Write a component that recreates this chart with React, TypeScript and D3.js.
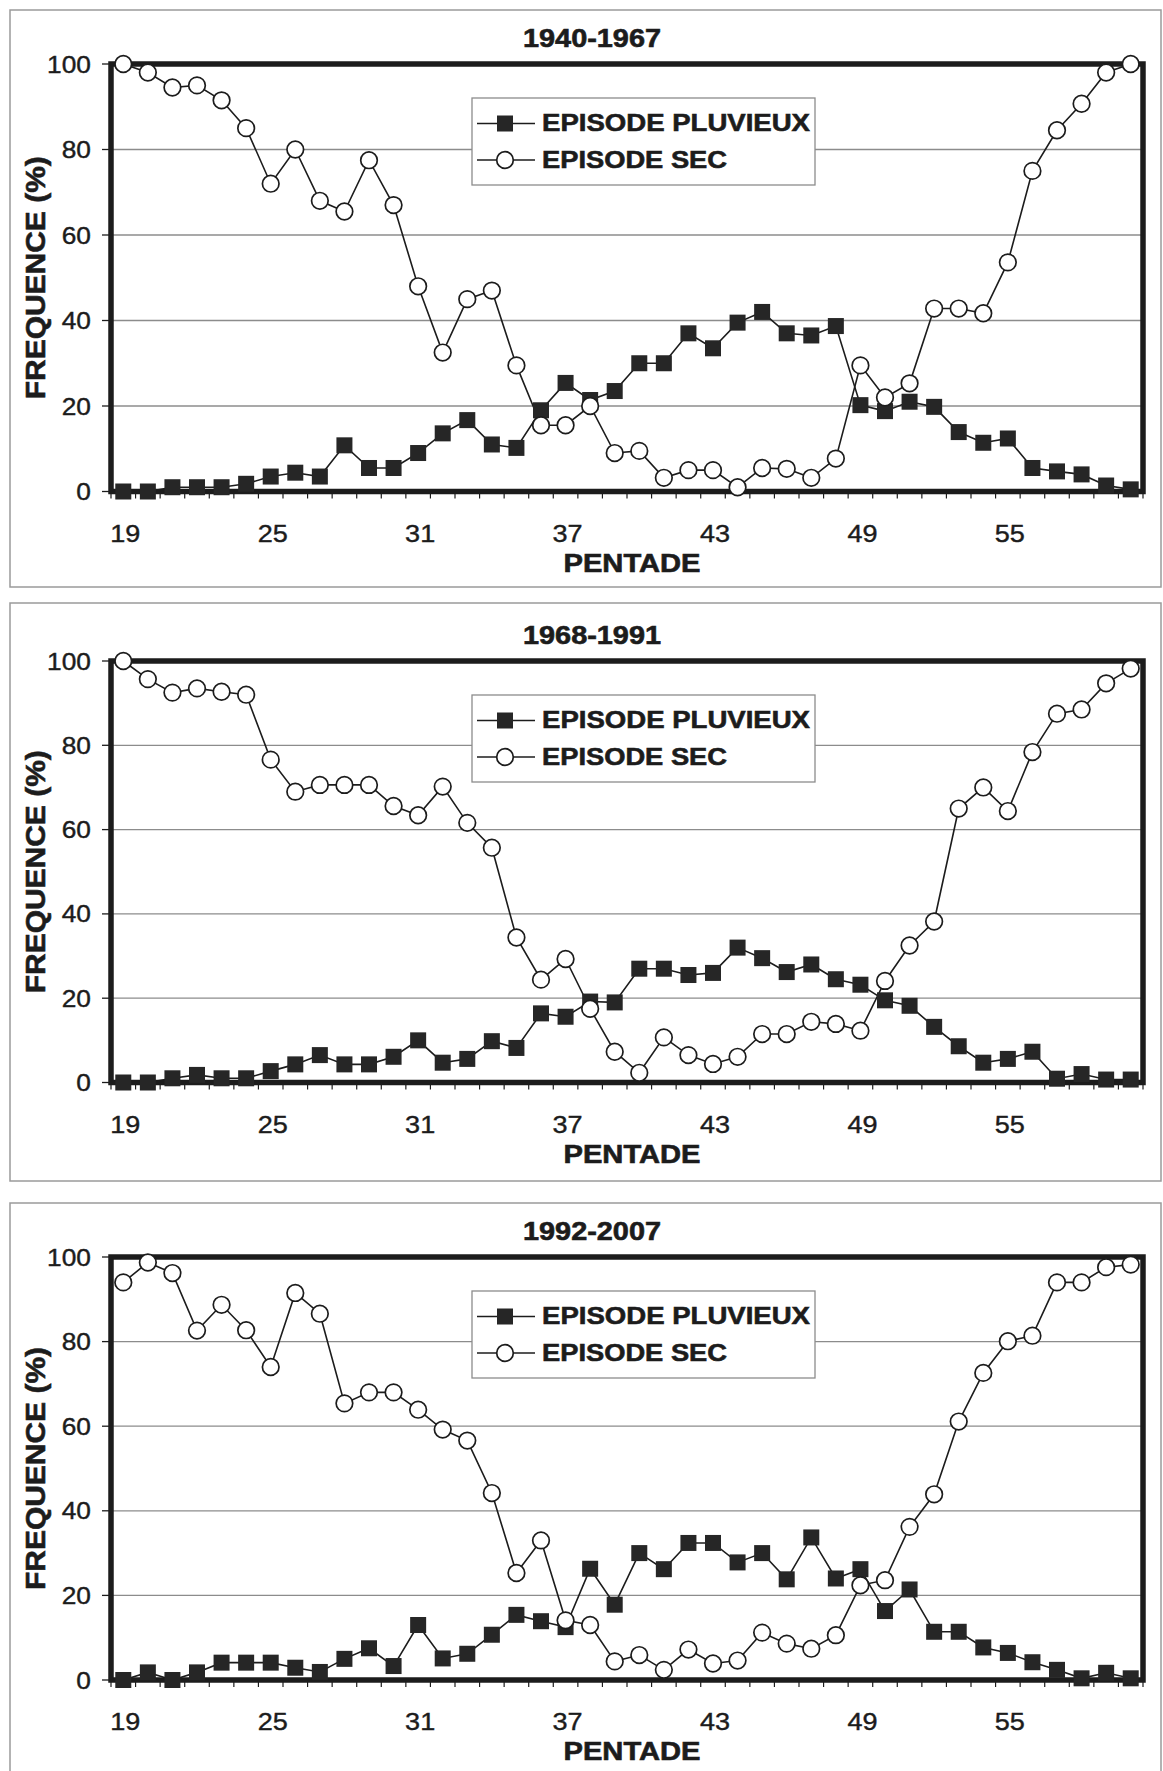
import React from "react";
import * as d3 from "d3";

// Pentad categories on the x axis
const PENTADES = [
  19, 20, 21, 22, 23, 24, 25, 26, 27, 28, 29, 30, 31, 32, 33, 34, 35, 36, 37, 38, 39,
  40, 41, 42, 43, 44, 45, 46, 47, 48, 49, 50, 51, 52, 53, 54, 55, 56, 57, 58, 59, 60,
];
const X_TICK_LABELS = [19, 25, 31, 37, 43, 49, 55];
const Y_TICKS = [0, 20, 40, 60, 80, 100];
const GRID_VALUES = [20, 40, 60, 80];

const TITLES = ["1940-1967", "1968-1991", "1992-2007"];
const SERIES_NAMES = ["EPISODE PLUVIEUX", "EPISODE SEC"];

// 1940-1967
const PLUV_1940 = [
  0, 0, 1, 1, 1, 1.8, 3.5, 4.4, 3.5, 10.8, 5.5, 5.5, 9, 13.6, 16.7, 11, 10.2, 19, 25.4, 21.4, 23.5,
  30, 30, 37, 33.5, 39.5, 42, 37, 36.5, 38.7, 20.2, 18.8, 21, 19.8, 13.9, 11.4, 12.4, 5.5, 4.7, 4, 1.4, 0.5,
];
const SEC_1940 = [
  100, 98, 94.5, 95, 91.5, 85, 72, 80, 68, 65.5, 77.5, 67, 48, 32.5, 45, 47, 29.5, 15.5, 15.5, 20, 9,
  9.5, 3.2, 5, 5, 1, 5.5, 5.3, 3.2, 7.7, 29.5, 22, 25.3, 42.8, 42.8, 41.7, 53.6, 75, 84.5, 90.7, 98, 100,
];

// 1968-1991
const PLUV_1968 = [
  0, 0, 1, 1.8, 1, 1, 2.7, 4.3, 6.5, 4.3, 4.3, 6.1, 10, 4.7, 5.6, 9.8, 8.2, 16.4, 15.6, 19.2, 19,
  27, 27, 25.5, 26, 32, 29.5, 26.2, 28, 24.5, 23.2, 19.5, 18.2, 13.2, 8.6, 4.7, 5.6, 7.3, 0.9, 2, 0.7, 0.7,
];
const SEC_1968 = [
  100, 95.7, 92.5, 93.5, 92.7, 92, 76.6, 69, 70.6, 70.6, 70.6, 65.6, 63.4, 70.2, 61.6, 55.7, 34.4, 24.4, 29.3, 17.5, 7.3,
  2.3, 10.7, 6.5, 4.4, 6.1, 11.5, 11.5, 14.4, 13.9, 12.3, 24.1, 32.5, 38.2, 65, 70, 64.4, 78.4, 87.5, 88.5, 94.7, 98.2,
];

// 1992-2007
const PLUV_1992 = [
  0, 1.8, 0, 1.8, 4.1, 4.1, 4.1, 2.9, 1.9, 5, 7.5, 3.3, 13, 5.1, 6.2, 10.7, 15.4, 13.9, 12.5, 26.3, 17.8,
  30, 26.2, 32.4, 32.4, 27.8, 30, 23.8, 33.7, 24, 26.2, 16.3, 21.4, 11.4, 11.4, 7.7, 6.4, 4.2, 2.4, 0.4, 1.7, 0.4,
];
const SEC_1992 = [
  94, 98.7, 96.2, 82.6, 88.7, 82.7, 74, 91.5, 86.6, 65.4, 68, 68, 63.9, 59.2, 56.6, 44.2, 25.3, 33, 14.1, 13, 4.4,
  5.9, 2.4, 7.2, 3.9, 4.6, 11.2, 8.6, 7.4, 10.6, 22.4, 23.6, 36.2, 43.9, 61.1, 72.6, 80.1, 81.4, 94, 94, 97.6, 98.2,
];

const W = 1163;
const H = 1771;
const X_LEFT = 111;
const X_RIGHT = 1143;
const FONT = "'Liberation Sans', Arial, Helvetica, sans-serif";
const INK = "#1c1c1c";
const SQ = 16;
const R = 8.3;

const PANELS = [
  { title: TITLES[0], pluv: PLUV_1940, sec: SEC_1940, boxTop: 10, boxBottom: 587, plotTop: 64, plotBottom: 491.5 },
  { title: TITLES[1], pluv: PLUV_1968, sec: SEC_1968, boxTop: 603, boxBottom: 1181, plotTop: 661, plotBottom: 1082.5 },
  { title: TITLES[2], pluv: PLUV_1992, sec: SEC_1992, boxTop: 1203, boxBottom: 1795, plotTop: 1257, plotBottom: 1680 },
];

const x = d3.scaleBand<number>().domain(PENTADES).range([X_LEFT, X_RIGHT]).paddingInner(0).paddingOuter(0);
const cx = (p: number) => (x(p) as number) + x.bandwidth() / 2;

function Panel({ cfg }: { cfg: (typeof PANELS)[number] }) {
  const y = d3.scaleLinear().domain([0, 100]).range([cfg.plotBottom, cfg.plotTop]);
  const line = d3
    .line<number>()
    .x((_, i) => cx(PENTADES[i]))
    .y((v) => y(v));
  const midY = (cfg.plotTop + cfg.plotBottom) / 2;
  const legTop = cfg.plotTop + 34;
  const legLeft = 472;
  const legRight = 815;
  const row1 = legTop + 25.5;
  const row2 = legTop + 62;
  const boundaries = PENTADES.map((p) => x(p) as number).concat([X_RIGHT]);

  const boldText = {
    fontFamily: FONT,
    fontWeight: "bold" as const,
    fill: INK,
    stroke: INK,
    strokeWidth: 0.6,
    lengthAdjust: "spacingAndGlyphs" as const,
  };

  return (
    <g>
      {/* panel frame */}
      <rect
        x={10}
        y={cfg.boxTop}
        width={1151}
        height={cfg.boxBottom - cfg.boxTop}
        fill="white"
        stroke="#9a9a9a"
        strokeWidth={1.5}
      />
      {/* title */}
      <text x={592} y={cfg.plotTop - 17} textAnchor="middle" fontSize={25} textLength={138} {...boldText}>
        {cfg.title}
      </text>

      {/* gridlines */}
      {GRID_VALUES.map((v) => (
        <line key={v} x1={X_LEFT} x2={X_RIGHT} y1={y(v)} y2={y(v)} stroke="#8c8c8c" strokeWidth={1.3} />
      ))}

      {/* y ticks and labels */}
      {Y_TICKS.map((v) => (
        <g key={v}>
          <line x1={X_LEFT - 9} x2={X_LEFT} y1={y(v)} y2={y(v)} stroke={INK} strokeWidth={1.3} />
          <text
            transform={`translate(91,${y(v) + 8.5}) scale(1.12,1)`}
            textAnchor="end"
            fontFamily={FONT}
            fontSize={23.5}
            fill={INK}
            stroke={INK}
            strokeWidth={0.4}
          >
            {v}
          </text>
        </g>
      ))}

      {/* x ticks between categories */}
      {boundaries.map((bx, i) => (
        <line key={i} x1={bx} x2={bx} y1={cfg.plotBottom} y2={cfg.plotBottom + 7} stroke={INK} strokeWidth={1.2} />
      ))}
      {X_TICK_LABELS.map((p) => (
        <text
          key={p}
          transform={`translate(${cx(p) + 2},${cfg.plotBottom + 50}) scale(1.15,1)`}
          textAnchor="middle"
          fontFamily={FONT}
          fontSize={23.5}
          fill={INK}
          stroke={INK}
          strokeWidth={0.4}
        >
          {p}
        </text>
      ))}

      {/* axis titles */}
      <text x={632} y={cfg.plotBottom + 80} textAnchor="middle" fontSize={25} textLength={137} {...boldText}>
        PENTADE
      </text>
      <text
        transform={`translate(45,${midY}) rotate(-90)`}
        textAnchor="middle"
        fontSize={27}
        textLength={243}
        {...boldText}
      >
        FREQUENCE (%)
      </text>

      {/* series lines */}
      <path d={line(cfg.pluv) || ""} fill="none" stroke={INK} strokeWidth={1.6} />
      <path d={line(cfg.sec) || ""} fill="none" stroke={INK} strokeWidth={1.6} />

      {/* plot frame */}
      <rect
        x={X_LEFT}
        y={cfg.plotTop}
        width={X_RIGHT - X_LEFT}
        height={cfg.plotBottom - cfg.plotTop}
        fill="none"
        stroke={INK}
        strokeWidth={5.5}
      />

      {/* markers */}
      {cfg.pluv.map((v, i) => (
        <rect key={`s${i}`} x={cx(PENTADES[i]) - SQ / 2} y={y(v) - SQ / 2} width={SQ} height={SQ} fill="#262626" />
      ))}
      {cfg.sec.map((v, i) => (
        <circle key={`c${i}`} cx={cx(PENTADES[i])} cy={y(v)} r={R} fill="white" stroke={INK} strokeWidth={1.7} />
      ))}

      {/* legend */}
      <rect
        x={legLeft}
        y={legTop}
        width={legRight - legLeft}
        height={87}
        fill="white"
        stroke="#8c8c8c"
        strokeWidth={1.3}
      />
      <line x1={477} x2={535} y1={row1} y2={row1} stroke={INK} strokeWidth={1.6} />
      <rect x={505 - SQ / 2} y={row1 - SQ / 2} width={SQ} height={SQ} fill="#262626" />
      <text x={542} y={legTop + 33} fontSize={24} textLength={268} {...boldText}>
        {SERIES_NAMES[0]}
      </text>
      <line x1={477} x2={535} y1={row2} y2={row2} stroke={INK} strokeWidth={1.6} />
      <circle cx={505} cy={row2} r={R} fill="white" stroke={INK} strokeWidth={1.7} />
      <text x={542} y={legTop + 70} fontSize={24} textLength={185} {...boldText}>
        {SERIES_NAMES[1]}
      </text>
    </g>
  );
}

export default function App() {
  return (
    <svg
      width={W}
      height={H}
      viewBox={`0 0 ${W} ${H}`}
      style={{ position: "absolute", left: 0, top: 0, background: "white" }}
    >
      <rect x={0} y={0} width={W} height={H} fill="white" />
      {PANELS.map((cfg, i) => (
        <Panel key={i} cfg={cfg} />
      ))}
    </svg>
  );
}
